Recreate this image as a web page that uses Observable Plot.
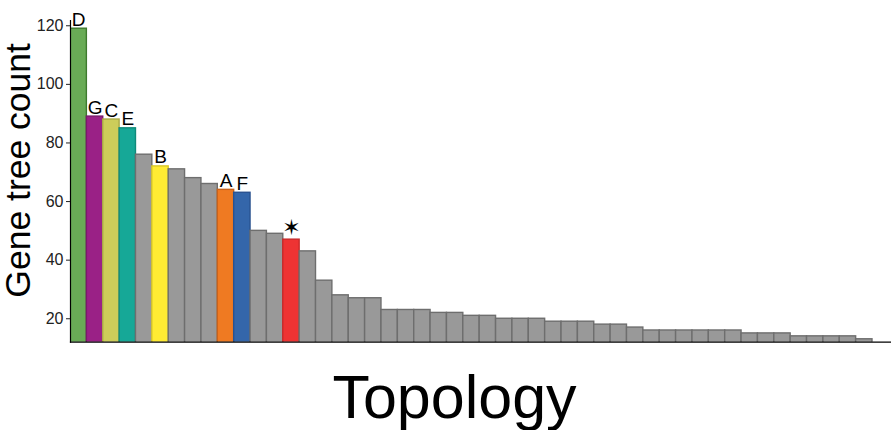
<!DOCTYPE html>
<html>
<head>
<meta charset="utf-8">
<script src="https://cdn.jsdelivr.net/npm/d3@7"></script>
<script src="https://cdn.jsdelivr.net/npm/@observablehq/plot@0.6"></script>
<style>
  html, body { margin: 0; padding: 0; background: #fff; }
  #chart svg { display: block; font-family: "Liberation Sans", Arial, sans-serif; }
</style>
</head>
<body>
<div id="chart"></div>
<script>
// Gene tree counts per topology, ranked
const counts = [119, 89, 88, 85, 76, 72, 71, 68, 66, 64, 63, 50, 49, 47, 43, 33, 28, 27, 27,
  23, 23, 23, 22, 22, 21, 21, 20, 20, 20, 19, 19, 19, 18, 18, 17, 16, 16, 16, 16, 16, 16,
  15, 15, 15, 14, 14, 14, 14, 13];
// Labels of the highlighted topologies (remaining bars unlabeled)
const topologyLabels = ["D", "G", "C", "E", "", "B", "", "", "", "A", "F", "", "", "★"];
const yTicks = [20, 40, 60, 80, 100, 120];
const fillByLabel = {D: "#69ab56", G: "#9a2186", C: "#cdcd5a", E: "#16a897", B: "#ffeb33",
  A: "#ef7a22", F: "#3466aa", "★": "#ee3333", "": "#999999"};
const strokeByLabel = {D: "#3e7a2e", G: "#7a1a6a", C: "#aaaa45", E: "#108a7a", B: "#d9c72a",
  A: "#c9621a", F: "#2a5290", "★": "#c92a2a", "": "#6e6e6e"};

const data = counts.map((c, i) => ({
  id: "T" + (i + 1),
  count: c,
  label: topologyLabels[i] ?? ""
}));
const letterData = data.filter(d => d.label !== "" && d.label !== "★");
const starData = data.filter(d => d.label === "★");

const chart = Plot.plot({
  width: 891,
  height: 430,
  marginLeft: 70,
  marginRight: 0,
  marginTop: 20,
  marginBottom: 88.3,
  x: {domain: data.map(d => d.id), range: [70, 872], padding: 0, round: false, axis: null},
  y: {domain: [12, 121.8], axis: null},
  marks: [
    Plot.barY(data, {
      x: "id", y: "count",
      fill: d => fillByLabel[d.label],
      stroke: d => strokeByLabel[d.label],
      strokeWidth: 1.4,
      clip: true
    }),
    Plot.frame({anchor: "left", stroke: "#000", strokeWidth: 1.2}),
    Plot.frame({anchor: "bottom", stroke: "#000", strokeWidth: 1.2}),
    Plot.axisY({ticks: yTicks, tickSize: 4, tickPadding: 3, fontSize: 16, label: null, color: "#222"}),
    Plot.text(letterData, {
      x: "id", y: "count", text: "label",
      lineAnchor: "bottom", dy: -3, fontSize: 19, fill: "#000"
    }),
    Plot.text(starData, {
      x: "id", y: "count", text: () => "✶",
      lineAnchor: "middle", dy: -12, fontSize: 22, fill: "#000",
      fontFamily: "DejaVu Sans"
    }),
    Plot.text(["Gene tree count"], {
      frameAnchor: "left", rotate: -90, lineAnchor: "bottom", textAnchor: "middle",
      dx: -40.5, dy: -11, fontSize: 35.5, fill: "#000"
    }),
    Plot.text(["Topology"], {
      frameAnchor: "bottom", lineAnchor: "bottom", textAnchor: "middle",
      dx: -26.5, dy: 75.6, fontSize: 61, fill: "#000"
    })
  ]
});
document.getElementById("chart").appendChild(chart);
</script>
</body>
</html>
